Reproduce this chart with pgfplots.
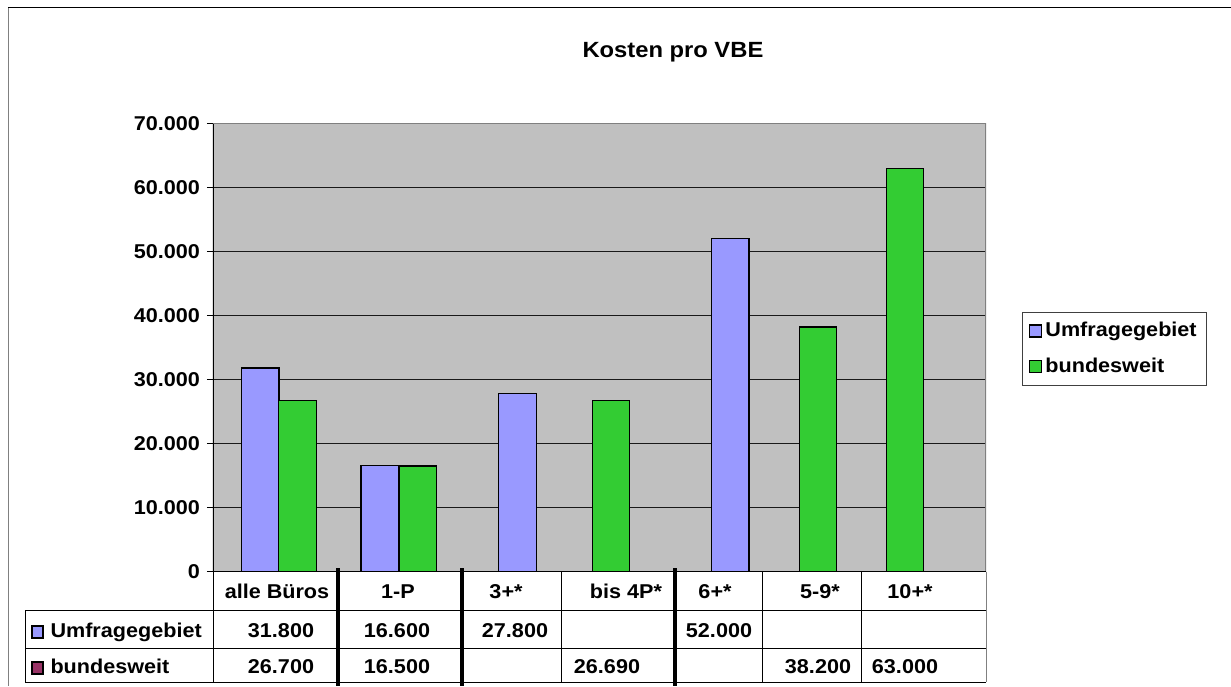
\documentclass[border=0pt]{standalone}
\usepackage{pgfplots}
\pgfplotsset{compat=1.18}
\usepackage{pgfplotstable}
\usepackage{fontspec}
\setmainfont{Liberation Sans}[FakeStretch=1.08]
\definecolor{plotgray}{HTML}{C0C0C0}
\definecolor{blueS}{HTML}{9999FF}
\definecolor{greenS}{HTML}{33CC33}
\definecolor{maroonS}{HTML}{993366}
\definecolor{frame}{HTML}{808080}
\newcommand{\lbl}{\bfseries\fontsize{10}{12}\selectfont}

% x = horizontal position of the bar centre (plot area spans 213..986)
\pgfplotstableread{
x y
260.3 31800
379.7 16600
517.5 27800
730.2 52000
}\umfrage
\pgfplotstableread{
x y
297.5 26700
417.7 16500
611.0 26690
818.0 38200
905.0 63000
}\bund

\begin{document}
\begin{tikzpicture}
\path[use as bounding box] (0,0) rectangle (615.5pt,-343pt);
\begin{axis}[
  at={(106.5pt,-285.75pt)}, anchor=south west,
  scale only axis, width=386.5pt, height=224pt,
  xmin=213, xmax=986, ymin=0, ymax=70000,
  axis background/.style={fill=plotgray},
  axis line style={draw=none},
  xtick=\empty,
  ytick={0,10000,...,70000},
  ytick pos=left,
  ymajorgrids, grid style={black!90, line width=0.55pt},
  tick align=outside, major tick length=3pt, tick style={black, line width=0.5pt},
  scaled y ticks=false,
  yticklabel style={/pgf/number format/.cd, fixed, precision=0, 1000 sep={.}, assume math mode=true},
  ticklabel style={font=\lbl},
  ybar, bar width=37.5,
  title={Kosten pro VBE},
  every axis title shift=0pt,
  title style={at={(0.595,1.1596)}, anchor=center, yshift=0pt, font=\bfseries\fontsize{11}{13}\selectfont},
  legend style={at={(1.0466,0.579)}, anchor=north west, draw=black!75, line width=0.6pt,
    font=\lbl, inner xsep=3pt, inner ysep=3pt, row sep=5.5pt, nodes={inner sep=1.8pt}},
  legend cell align=left,
]
\addplot[bar shift=0pt, fill=blueS, draw=black, line width=0.65pt,
  legend image code/.code={\draw[fill=blueS,draw=black,line width=0.6pt] (0pt,-3pt) rectangle (6pt,3pt);}]
  table[x=x,y=y] {\umfrage};
\addlegendentry{Umfragegebiet}
\addplot[bar shift=0pt, fill=greenS, draw=black, line width=0.65pt,
  legend image code/.code={\draw[fill=greenS,draw=black,line width=0.6pt] (0pt,-3pt) rectangle (6pt,3pt);}]
  table[x=x,y=y] {\bund};
\addlegendentry{bundesweit}
\draw[frame, line width=0.6pt] (rel axis cs:0,1) -- (rel axis cs:1,1) -- (rel axis cs:1,0);
\draw[black, line width=0.6pt] (rel axis cs:0,1) -- (rel axis cs:0,0) -- (rel axis cs:1,0);
\end{axis}

\begin{scope}[x=0.5pt, y=-0.5pt, line width=0.5pt]
% outer frame
\draw[frame] (8,7) -- (8,686);
\draw[black] (8,7) -- (1231,7);
% data table
\draw (25,610) -- (986,610);
\draw (25,648) -- (986,648);
\draw (25,682) -- (986,682);
\draw (25,610) -- (25,682);
\draw (213,571.5) -- (213,682);
\draw (561,571.5) -- (561,682);
\draw (762,571.5) -- (762,682);
\draw (861,571.5) -- (861,682);
\draw[frame] (986,571.5) -- (986,682);
\draw[line width=1.9pt] (338,568) -- (338,686);
\draw[line width=1.9pt] (462,568) -- (462,686);
\draw[line width=1.9pt] (675,568) -- (675,686);
% header
\node[anchor=base, font=\lbl] at (277,598) {alle Büros};
\node[anchor=base, font=\lbl] at (398,598) {1-P};
\node[anchor=base, font=\lbl] at (506,598) {3+*};
\node[anchor=base, font=\lbl] at (626,598) {bis 4P*};
\node[anchor=base, font=\lbl] at (715,598) {6+*};
\node[anchor=base, font=\lbl] at (820,598) {5-9*};
\node[anchor=base, font=\lbl] at (910,598) {10+*};
% row labels
\draw[fill=blueS, draw=black, line width=0.6pt] (32,626) rectangle (43,638);
\node[anchor=base west, font=\lbl, inner sep=0pt] at (50,637) {Umfragegebiet};
\draw[fill=maroonS, draw=black, line width=0.6pt] (32,662) rectangle (43,674);
\node[anchor=base west, font=\lbl, inner sep=0pt] at (50,673) {bundesweit};
% row values
\node[anchor=base, font=\lbl] at (281,637) {31.800};
\node[anchor=base, font=\lbl] at (397,637) {16.600};
\node[anchor=base, font=\lbl] at (515,637) {27.800};
\node[anchor=base, font=\lbl] at (719,637) {52.000};
\node[anchor=base, font=\lbl] at (281,673) {26.700};
\node[anchor=base, font=\lbl] at (397,673) {16.500};
\node[anchor=base, font=\lbl] at (607,673) {26.690};
\node[anchor=base, font=\lbl] at (818,673) {38.200};
\node[anchor=base, font=\lbl] at (905,673) {63.000};
\end{scope}
\end{tikzpicture}
\end{document}
